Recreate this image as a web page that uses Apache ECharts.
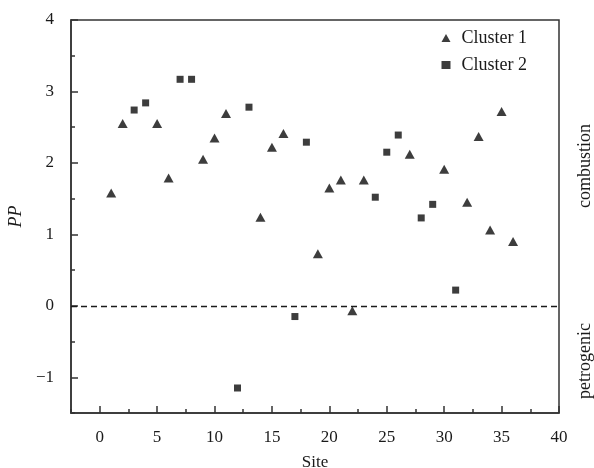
<!DOCTYPE html>
<html>
<head>
<meta charset="utf-8">
<script src="https://cdn.jsdelivr.net/npm/echarts@6/dist/echarts.min.js"></script>
<style>
  html, body { margin: 0; padding: 0; background: #fff; }
  #main { width: 594px; height: 468px; }
</style>
</head>
<body>
<div id="main"></div>
<script>
// Cluster 1 (triangles): site / PP
const cluster1Sites = [1, 2, 5, 6, 9, 10, 11, 14, 15, 16, 19, 20, 21, 22, 23, 27, 30, 32, 33, 34, 35, 36];
const cluster1PP = [1.58, 2.55, 2.55, 1.79, 2.05, 2.35, 2.69, 1.24, 2.22, 2.41, 0.73, 1.65, 1.76, -0.07, 1.76, 2.12, 1.91, 1.45, 2.37, 1.06, 2.72, 0.90];
// Cluster 2 (squares)
const cluster2Sites = [3, 4, 7, 8, 12, 13, 17, 18, 24, 25, 26, 28, 29, 31];
const cluster2PP = [2.74, 2.84, 3.17, 3.17, -1.15, 2.78, -0.15, 2.29, 1.52, 2.15, 2.39, 1.23, 1.42, 0.22];

const xMajorTicks = [0, 5, 10, 15, 20, 25, 30, 35, 40];
const yMajorTicks = [-1, 0, 1, 2, 3, 4];

const serif = 'Liberation Serif';
const ink = '#1a1a1a';

let chart = echarts.init(document.getElementById('main'));

function pairs(xs, ys) {
  return xs.map((x, i) => [x, ys[i]]);
}

let option = {
  animation: false,
  textStyle: { fontFamily: serif, color: ink },
  grid: {
    left: 71, right: 35, top: 20, bottom: 55,
    outerBoundsMode: 'none',
    show: true, borderColor: '#333', borderWidth: 1.5
  },
  legend: {
    orient: 'vertical',
    right: 62,
    top: 24,
    itemWidth: 9,
    itemHeight: 8,
    itemGap: 9,
    textStyle: { fontFamily: serif, fontSize: 18, color: ink, padding: [0, 0, 0, 6] },
    data: [
      { name: 'Cluster 1', icon: 'triangle' },
      { name: 'Cluster 2', icon: 'rect' }
    ]
  },
  xAxis: [
    {
      type: 'value', min: -2.5, max: 40, interval: 2.5,
      name: 'Site', nameLocation: 'middle', nameGap: 41,
      nameTextStyle: { fontFamily: serif, fontSize: 17, color: ink },
      splitLine: { show: false },
      axisLine: { show: true, onZero: false, lineStyle: { color: '#333', width: 1.5 } },
      axisTick: { inside: true, length: 4, lineStyle: { color: '#333', width: 1.5 } },
      axisLabel: {
        fontFamily: serif, fontSize: 17, color: ink, margin: 16,
        formatter: v => (v % 5 === 0 ? String(v) : '')
      }
    },
    {
      type: 'value', min: -2.5, max: 40, position: 'bottom', gridIndex: 0,
      splitLine: { show: false },
      axisLine: { show: false, onZero: false },
      axisTick: { inside: true, length: 7, customValues: xMajorTicks, lineStyle: { color: '#333', width: 1.5 } },
      axisLabel: { show: false }
    }
  ],
  yAxis: [
    {
      type: 'value', min: -1.5, max: 4, interval: 0.5,
      name: 'PP', nameLocation: 'middle', nameGap: 41,
      nameTextStyle: { fontFamily: serif, fontSize: 18, fontStyle: 'italic', color: ink },
      splitLine: { show: false },
      axisLine: { show: true, onZero: false, lineStyle: { color: '#333', width: 1.5 } },
      axisTick: { inside: true, length: 4, lineStyle: { color: '#333', width: 1.5 } },
      axisLabel: {
        fontFamily: serif, fontSize: 17, color: ink, margin: 17,
        formatter: v => (Number.isInteger(v) ? (v < 0 ? '\u2212' + Math.abs(v) : String(v)) : '')
      }
    },
    {
      type: 'value', min: -1.5, max: 4, position: 'left', gridIndex: 0,
      splitLine: { show: false },
      axisLine: { show: false, onZero: false },
      axisTick: { inside: true, length: 7, customValues: yMajorTicks, lineStyle: { color: '#333', width: 1.5 } },
      axisLabel: { show: false }
    }
  ],
  graphic: [
    {
      type: 'text', x: 585, y: 166, rotation: Math.PI / 2,
      style: { text: 'combustion', font: '18px "Liberation Serif"', fill: ink, align: 'center', verticalAlign: 'middle' }
    },
    {
      type: 'text', x: 585, y: 361, rotation: Math.PI / 2,
      style: { text: 'petrogenic', font: '18px "Liberation Serif"', fill: ink, align: 'center', verticalAlign: 'middle' }
    }
  ],
  series: [
    {
      name: 'Cluster 1', type: 'scatter', symbol: 'triangle', symbolSize: [10, 9],
      itemStyle: { color: '#0d0d0d' },
      data: pairs(cluster1Sites, cluster1PP),
      markLine: {
        silent: true, symbol: 'none', label: { show: false },
        lineStyle: { color: '#1a1a1a', type: [6, 4], width: 1.4 },
        data: [{ yAxis: 0 }]
      }
    },
    {
      name: 'Cluster 2', type: 'scatter', symbol: 'rect', symbolSize: 7,
      itemStyle: { color: '#0d0d0d' },
      data: pairs(cluster2Sites, cluster2PP)
    }
  ]
};

chart.setOption(option);
</script>
</body>
</html>
